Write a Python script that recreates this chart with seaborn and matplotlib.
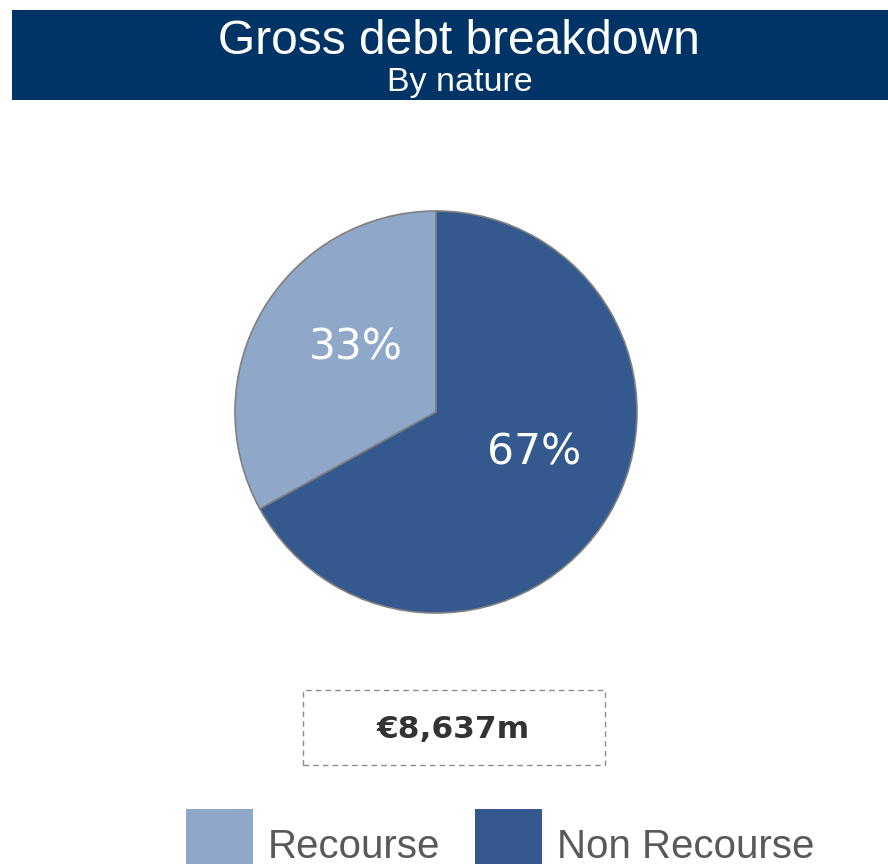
import matplotlib
matplotlib.use("Agg")
import matplotlib.pyplot as plt
from matplotlib.patches import Rectangle
import seaborn as sns

# Gross debt split by nature
categories = ["Recourse", "Non Recourse"]
shares = [33, 67]
total_label = "€8,637m"
title = "Gross debt breakdown"
subtitle = "By nature"

sns.set_theme(style="white")
palette = ["#8FA7C8", "#33598E"]
navy = "#003366"

W, H = 888, 864
fig = plt.figure(figsize=(W / 100, H / 100), dpi=100)
fig.patch.set_facecolor("white")

def fx(px):
    return px / W

def fy(py):
    return 1 - py / H

# header band
fig.patches.append(Rectangle((fx(12), fy(100)), fx(888) - fx(12), fy(10) - fy(100),
                             transform=fig.transFigure, facecolor=navy,
                             edgecolor="none", zorder=0))
fig.text(fx(459), fy(41), title, ha="center", va="center", color="white",
         fontsize=34.5, family=["Liberation Sans", "DejaVu Sans"])
fig.text(fx(460), fy(82), subtitle, ha="center", va="center", color="white",
         fontsize=24.5, family=["Liberation Sans", "DejaVu Sans"])

# pie
cx, cy, r = 436, 412, 201
ax = fig.add_axes([fx(cx - r), fy(cy + r), fx(2 * r), (2 * r) / H])
wedges, _, autotexts = ax.pie(
    shares, colors=palette, startangle=90, counterclock=True,
    autopct=lambda p: f"{p:.0f}%", pctdistance=0.53,
    wedgeprops=dict(edgecolor="#808080", linewidth=1.2),
    textprops=dict(color="white", fontsize=30.5, family=["DejaVu Sans"]),
)
for w in wedges:
    w.set_clip_on(False)
# percentage labels sit a little off the wedge bisectors
label_pos = [(-0.40, 0.32), (0.49, -0.20)]
for t, (x, y) in zip(autotexts, label_pos):
    t.set_position((x, y))
ax.set_xlim(-1, 1)
ax.set_ylim(-1, 1)
ax.set_aspect("equal")
ax.axis("off")

# total box
fig.patches.append(Rectangle((fx(303), fy(765)), fx(605) - fx(303), fy(690) - fy(765),
                             transform=fig.transFigure, facecolor="none",
                             edgecolor="#8c8c8c", linestyle=(0, (4, 3)),
                             linewidth=1.0))
fig.text(fx(453), fy(729), total_label, ha="center", va="center",
         color="#333333", fontsize=22.5, fontweight="bold",
         family=["DejaVu Sans"])

# legend
leg_fs = 29
leg = fig.legend(wedges, categories, loc="upper left",
                 bbox_to_anchor=(fx(186), fy(809)), ncol=2, frameon=False,
                 handlelength=1.66, handleheight=2.42,
                 handletextpad=0.37, columnspacing=0.87, borderpad=0,
                 borderaxespad=0,
                 prop=dict(family=["Liberation Sans", "DejaVu Sans"], size=leg_fs))
for t in leg.get_texts():
    t.set_color("#595959")
for h in leg.legend_handles:
    h.set_edgecolor("none")

fig.savefig("out.png", dpi=100)
